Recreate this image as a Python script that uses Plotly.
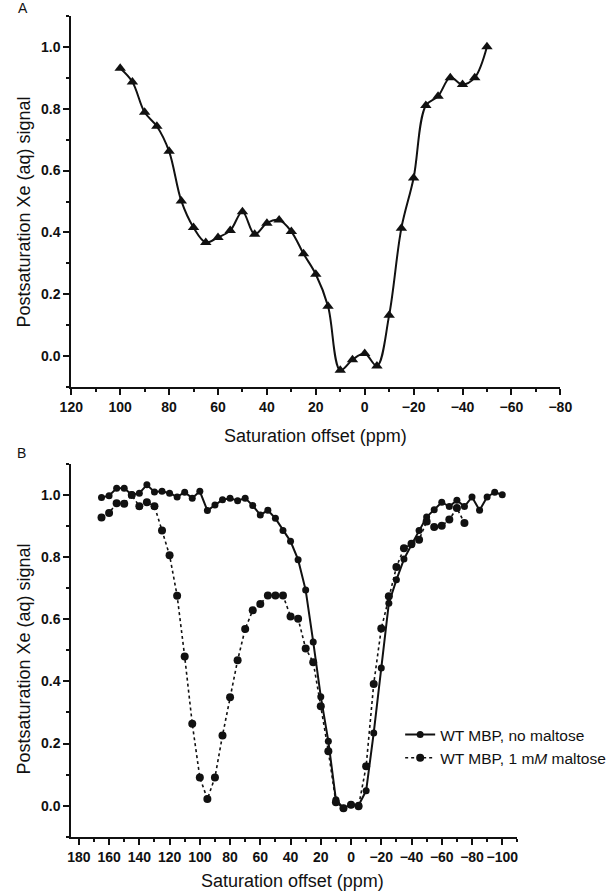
import plotly.graph_objects as go

# ---- Panel A data ----
a_offset = [100, 95, 90, 85, 80, 75, 70, 65, 60, 55, 50, 45, 40, 35, 30, 25, 20, 15, 10, 5, 0,
            -5, -10, -15, -20, -25, -30, -35, -40, -45, -50]
a_signal = [0.93, 0.886, 0.788, 0.743, 0.662, 0.502, 0.416, 0.368, 0.384, 0.406, 0.467, 0.394,
            0.43, 0.44, 0.403, 0.331, 0.265, 0.162, -0.045, -0.011, 0.009, -0.031, 0.133, 0.414,
            0.576, 0.81, 0.84, 0.9, 0.878, 0.9, 1.0]

# ---- Panel B data ----
b_offset_nomal = [165, 160, 155, 150, 145, 140, 135, 130, 125, 120, 115, 110, 105, 100, 95, 90,
                  85, 80, 75, 70, 65, 60, 55, 50, 45, 40, 35, 30, 25, 20, 15, 10, 5, 0, -5, -10,
                  -15, -20, -25, -30, -35, -40, -45, -50, -55, -60, -65, -70, -75, -80, -85, -90,
                  -95, -100]
b_signal_nomal = [0.992, 0.998, 1.022, 1.022, 1.001, 1.006, 1.033, 1.01, 1.012, 1.006, 0.994,
                  1.009, 0.99, 1.012, 0.95, 0.968, 0.985, 0.99, 0.982, 0.99, 0.966, 0.936, 0.951,
                  0.925, 0.886, 0.851, 0.792, 0.694, 0.527, 0.351, 0.207, 0.019, -0.008, 0.003,
                  0.001, 0.048, 0.234, 0.443, 0.652, 0.727, 0.794, 0.84, 0.886, 0.929, 0.953,
                  0.977, 0.963, 0.983, 0.963, 0.994, 0.951, 0.994, 1.009, 1.001]

b_offset_mal = [165, 160, 155, 150, 145, 140, 135, 130, 125, 120, 115, 110, 105, 100, 95, 90, 85,
                80, 75, 70, 65, 60, 55, 50, 45, 40, 35, 30, 25, 20, 15, 10, 5, 0, -5, -10, -15,
                -20, -25, -30, -35, -40, -45, -50, -55, -60, -65, -70, -75]
b_signal_mal = [0.928, 0.942, 0.974, 0.972, 1.0, 0.964, 0.977, 0.964, 0.886, 0.806, 0.676, 0.48,
                0.264, 0.091, 0.021, 0.091, 0.226, 0.349, 0.468, 0.569, 0.629, 0.649, 0.677,
                0.677, 0.677, 0.609, 0.602, 0.506, 0.462, 0.32, 0.175, 0.011, -0.008, 0.003,
                -0.002, 0.127, 0.392, 0.57, 0.674, 0.768, 0.829, 0.843, 0.856, 0.915, 0.897,
                0.901, 0.921, 0.958, 0.91]

series_names = ["WT MBP, no maltose", "WT MBP, 1 m<i>M</i> maltose"]
y_title = "Postsaturation Xe (aq) signal"
x_title = "Saturation offset (ppm)"

W, H = 612, 895
INK = "#111111"
FONT = "Liberation Sans, Arial, sans-serif"

def px_x(p):
    return p / W

def px_y(p):
    return 1 - p / H

fig = go.Figure()

fig.add_trace(go.Scatter(
    x=a_offset, y=a_signal, mode="lines+markers", xaxis="x", yaxis="y",
    line=dict(color=INK, width=2, shape="spline", smoothing=1.0),
    marker=dict(symbol="triangle-up", size=10, color=INK),
    showlegend=False))

fig.add_trace(go.Scatter(
    x=b_offset_nomal, y=b_signal_nomal, mode="lines+markers", xaxis="x2", yaxis="y2",
    name=series_names[0],
    line=dict(color=INK, width=2),
    marker=dict(symbol="circle", size=7, color=INK)))

fig.add_trace(go.Scatter(
    x=b_offset_mal, y=b_signal_mal, mode="lines+markers", xaxis="x2", yaxis="y2",
    name=series_names[1],
    line=dict(color=INK, width=1.6, dash="dot"),
    marker=dict(symbol="circle", size=8, color=INK)))

tickfont = dict(family=FONT, size=14, color=INK, weight="bold")
common = dict(showline=True, linecolor=INK, linewidth=2, ticks="outside", ticklen=6,
              tickwidth=2, tickcolor=INK, showgrid=False, zeroline=False, tickfont=tickfont)
minor_t = dict(ticks="outside", ticklen=3, tickwidth=2, tickcolor=INK)

fig.update_layout(
    width=W, height=H,
    margin=dict(l=0, r=0, t=0, b=0),
    paper_bgcolor="white", plot_bgcolor="white",
    xaxis=dict(domain=[px_x(61.7), px_x(570.7)], range=[120, -80], anchor="y",
               tickmode="linear", tick0=0, dtick=20,
               minor=dict(dtick=10, tick0=0, **minor_t), **common),
    yaxis=dict(domain=[px_y(387.3), px_y(15.7)], range=[-0.1, 1.1], anchor="x",
               tickmode="linear", tick0=0, dtick=0.2, tickformat=".1f",
               minor=dict(dtick=0.1, tick0=0, **minor_t), **common),
    xaxis2=dict(domain=[px_x(61.7), px_x(526)], range=[185, -110], anchor="y2",
                tickmode="linear", tick0=0, dtick=20,
                minor=dict(dtick=10, tick0=0, **minor_t), **common),
    yaxis2=dict(domain=[px_y(836.7), px_y(464)], range=[-0.1, 1.1], anchor="x2",
                tickmode="linear", tick0=0, dtick=0.2, tickformat=".1f",
                minor=dict(dtick=0.1, tick0=0, **minor_t), **common),
    legend=dict(x=px_x(404), y=px_y(718), xanchor="left", yanchor="top",
                bgcolor="rgba(0,0,0,0)", font=dict(family=FONT, size=15.5, color=INK),
                tracegroupgap=0, itemwidth=30),
    showlegend=True,
)

title_font = dict(family=FONT, size=18, color=INK)
annotations = [
    dict(text="A", x=px_x(11), y=px_y(8), xanchor="center", yanchor="middle",
         font=dict(family=FONT, size=14, color=INK)),
    dict(text="B", x=px_x(10), y=px_y(453), xanchor="center", yanchor="middle",
         font=dict(family=FONT, size=14, color=INK)),
    dict(text=x_title, x=px_x(316), y=px_y(436), xanchor="center", yanchor="middle",
         font=title_font),
    dict(text=y_title, x=px_x(12), y=px_y(212), xanchor="center", yanchor="middle",
         textangle=-90, font=title_font),
    dict(text=x_title, x=px_x(292), y=px_y(881), xanchor="center", yanchor="middle",
         font=title_font),
    dict(text=y_title, x=px_x(12), y=px_y(659), xanchor="center", yanchor="middle",
         textangle=-90, font=title_font),
]
for a in annotations:
    a.update(xref="paper", yref="paper", showarrow=False)
fig.update_layout(annotations=annotations)

fig.write_html("out.html", config={"displayModeBar": False},
               post_script="document.body.style.margin='0';")
